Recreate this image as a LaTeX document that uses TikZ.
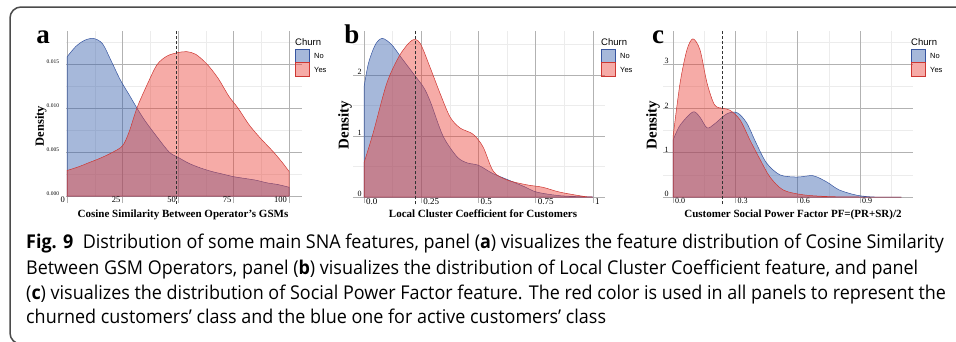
\documentclass[tikz,border=0pt]{standalone}
\usepackage{fontspec}
\setmainfont{Liberation Serif}
\newfontfamily\legfont{Liberation Sans}
\newfontfamily\capfont[FakeStretch=0.945]{Open Sans}
\definecolor{nocol}{RGB}{49,91,170}
\definecolor{yescol}{RGB}{235,60,50}
\definecolor{nodark}{RGB}{55,85,160}
\definecolor{yesdark}{RGB}{205,55,50}
\definecolor{framecol}{RGB}{75,75,75}
\tikzset{
 majorgrid/.style={draw=gray!60,line width=.7pt},
 minorgrid/.style={draw=gray!15,line width=.5pt},
 nofill/.style={fill=nocol,fill opacity=.43,draw=nodark,line width=.5pt},
 yesfill/.style={fill=yescol,fill opacity=.43,draw=yesdark,line width=.5pt},
 cutline/.style={draw=black!80,dash pattern=on 3pt off 2pt,line width=.8pt},
 ylab/.style={inner sep=0pt,anchor=south east},
 xlab/.style={inner sep=0pt},
 axtitle/.style={font=\bfseries\fontsize{11}{12}\selectfont,inner sep=0pt,anchor=base},
 denslab/.style={font=\bfseries,rotate=90,inner sep=0pt},
 panlab/.style={font=\bfseries\fontsize{27}{27}\selectfont,inner sep=0pt,anchor=base},
 legtitle/.style={font=\legfont\fontsize{9.5}{10}\selectfont,inner sep=0pt,anchor=west},
 legtext/.style={font=\legfont\fontsize{7.5}{8}\selectfont,inner sep=0pt,anchor=west},
 capline/.style={font=\capfont\fontsize{19}{22}\selectfont,inner sep=0pt,anchor=base west},
}

\begin{document}
\begin{tikzpicture}[x=1pt,y=-1pt]
    \useasboundingbox (0,0) rectangle (956,341);
    \begin{scope}
        \clip (0,0) rectangle (956,341);
        \draw[framecol, line width=1.5pt, rounded corners=11pt] (960,7) -- (10,7) -- (10,344) -- (40,344);
    \end{scope}

    % panel a
    \begin{scope}[shift={(67,196)},x=2.22pt,y=8.8pt]
        \foreach \v in {2.5,7.5,12.5,17.5} \draw[minorgrid] (-0.5,\v) -- (106,\v);
        \foreach \u in {12.5,37.5,62.5,87.5} \draw[minorgrid] (\u,0) -- (\u,18.75);
        \foreach \v in {0,5,10,15} \draw[majorgrid] (-0.5,\v) -- (106,\v);
        \foreach \u in {0,25,50,75,100} \draw[majorgrid] (\u,-0.8) -- (\u,18.75);
        \path[nofill] plot[smooth] coordinates {(0,15.8) (4,17.0) (8,17.7) (12,17.9) (16,17.3) (20,15.3) (24,13.2) (28,11.5) (31.5,10.0) (35,8.6) (40,6.9) (46,5.0) (50,4.4) (55,3.7) (60,3.2) (65,2.8) (70,2.5) (75,2.2) (80,2.0) (85,1.8) (90,1.5) (95,1.3) (100,1.0)} -- (100,0) -- (0,0) -- cycle;
        \path[yesfill] plot[smooth] coordinates {(0,2.9) (5,3.3) (10,3.8) (15,4.3) (20,4.9) (25,5.7) (28,7.3) (31.5,10.0) (36,12.6) (40.5,14.9) (45,15.9) (50,16.3) (54,16.4) (58,16.1) (63,15.0) (68,13.4) (73,11.3) (77,10.0) (82,8.1) (87,6.6) (93,5.0) (97,3.8) (100,2.8)} -- (100,0) -- (0,0) -- cycle;
        \draw[cutline] (49.1,-0.9) -- (49.1,18.9);
        \foreach \v/\t [count=\i] in {0/0.000,5/0.005,10/0.010,15/0.015}
            \node[ylab,font=\fontsize{5.5}{6}\selectfont] (ay\i) at (-3.5,\v) {\t};
        \foreach \u [count=\i] in {0,25,50,75,100}
            \node[xlab,anchor=north east,font=\fontsize{8.5}{9}\selectfont] (ax\i) at ([xshift=-2pt,yshift=-1pt]\u,0) {\u};
    \end{scope}
    \node[panlab] (pa) at (43,43) {a};
    \node[denslab,font=\bfseries\fontsize{12.5}{13}\selectfont] (da) at (41,126) {Density};
    \node[axtitle] (ta) at (183,217) {Cosine Similarity Between Operator’s GSMs};

    % panel b
    \begin{scope}[shift={(364,197)},x=229pt,y=61pt]
        \foreach \v in {0.5,1.5,2.5} \draw[minorgrid] (-0.048,\v) -- (1.052,\v);
        \foreach \u in {0.125,0.375,0.625,0.875} \draw[minorgrid] (\u,0) -- (\u,2.72);
        \foreach \v in {0,1,2} \draw[majorgrid] (-0.048,\v) -- (1.052,\v);
        \foreach \u in {0,0.25,0.5,0.75,1} \draw[majorgrid] (\u,-0.1) -- (\u,2.72);
        \path[nofill] plot[smooth] coordinates {(0,1.8) (0.02,2.2) (0.05,2.5) (0.08,2.6) (0.12,2.5) (0.16,2.3) (0.22,2.0) (0.26,1.8) (0.29,1.56) (0.345,1.0) (0.406,0.66) (0.45,0.56) (0.5,0.52) (0.56,0.39) (0.63,0.28) (0.7,0.17) (0.755,0.08) (0.86,0.02) (1,0)} -- (0,0) -- cycle;
        \path[yesfill] plot[smooth] coordinates {(0,0.56) (0.04,1.05) (0.1,1.87) (0.157,2.33) (0.21,2.57) (0.245,2.52) (0.288,2.13) (0.332,1.7) (0.376,1.31) (0.42,1.13) (0.476,1.03) (0.52,0.82) (0.565,0.42) (0.624,0.28) (0.71,0.2) (0.78,0.16) (0.855,0.08) (0.96,0.01) (1,0)} -- (0,0) -- cycle;
        \draw[cutline] (0.223,-0.12) -- (0.223,2.74);
        \foreach \v [count=\i] in {0,1,2}
            \node[ylab,font=\fontsize{8}{8}\selectfont] (by\i) at (-0.01,\v) {\v};
        \foreach \u/\t [count=\i] in {0/0.0,0.25/0.25,0.5/0.5,0.75/0.75,1/1}
            \node[xlab,anchor=north west,font=\fontsize{9}{9}\selectfont] (bx\i) at ([xshift=2pt,yshift=-1pt]\u,0) {\t};
    \end{scope}
    \node[panlab] (pb) at (352,43) {b};
    \node[denslab,font=\bfseries\fontsize{15}{15}\selectfont] (db) at (345,125) {Density};
    \node[axtitle] (tb) at (483,217) {Local Cluster Coefficient for Customers};

    % panel c
    \begin{scope}[shift={(673,197)},x=207.7pt,y=44.3pt]
        \foreach \v in {0.5,1.5,2.5,3.5} \draw[minorgrid] (-0.048,\v) -- (1.156,\v);
        \foreach \u in {0.15,0.45,0.75,1.05} \draw[minorgrid] (\u,0) -- (\u,3.75);
        \foreach \v in {0,1,2,3} \draw[majorgrid] (-0.048,\v) -- (1.156,\v);
        \foreach \u in {0,0.3,0.6,0.9} \draw[majorgrid] (\u,-0.14) -- (\u,3.75);
        \path[nofill] plot[smooth] coordinates {(0,1.28) (0.034,1.62) (0.096,1.92) (0.13,1.8) (0.164,1.56) (0.2,1.65) (0.26,1.88) (0.31,1.9) (0.355,1.67) (0.4,1.22) (0.45,0.77) (0.515,0.5) (0.597,0.45) (0.674,0.48) (0.74,0.34) (0.8,0.16) (0.885,0.04) (0.97,0) (1.1,0)} -- (0,0) -- cycle;
        \path[yesfill] plot[smooth] coordinates {(0,1.35) (0.034,2.57) (0.067,3.32) (0.096,3.57) (0.13,3.32) (0.164,2.57) (0.2,2.08) (0.24,2.0) (0.274,1.96) (0.323,1.74) (0.37,1.29) (0.42,0.84) (0.467,0.45) (0.53,0.16) (0.626,0.05) (0.75,0.01) (0.9,0) (1.1,0)} -- (0,0) -- cycle;
        \draw[cutline] (0.24,-0.16) -- (0.24,3.78);
        \foreach \v [count=\i] in {0,1,2,3}
            \node[ylab,font=\fontsize{8}{8}\selectfont] (cy\i) at (-0.02,\v) {\v};
        \foreach \u/\t [count=\i] in {0/0.0,0.3/0.3,0.6/0.6,0.9/0.9}
            \node[xlab,anchor=north west,font=\fontsize{8}{8}\selectfont] (cx\i) at ([xshift=2pt,yshift=-1pt]\u,0) {\t};
    \end{scope}
    \node[panlab] (pc) at (658,43) {c};
    \node[denslab,font=\bfseries\fontsize{15}{15}\selectfont] (dc) at (653,125) {Density};
    \node[axtitle] (tc) at (793,217) {Customer Social Power Factor PF=(PR+SR)/2};

    % legends
    \foreach \p/\lx in {a/295,b/601,c/911} {
        \node[legtitle] (leg\p) at (\lx,42) {Churn};
        \draw[nofill] (\lx,49) rectangle (\lx+14,62.5);
        \draw[yesfill] (\lx,62.5) rectangle (\lx+14,76);
        \node[legtext] (no\p) at (\lx+19,56) {No};
        \node[legtext] (yes\p) at (\lx+19,70) {Yes};
    }

    % caption
    \node[capline] (cap1) at (26,248) {\textbf{Fig. 9}\enspace Distribution of some main SNA features, panel (\textbf{a}) visualizes the feature distribution of Cosine Similarity};
    \node[capline] (cap2) at (26,274) {Between GSM Operators, panel (\textbf{b}) visualizes the distribution of Local Cluster Coefficient feature, and panel};
    \node[capline] (cap3) at (26,299) {(\textbf{c}) visualizes the distribution of Social Power Factor feature. The red color is used in all panels to represent the};
    \node[capline] (cap4) at (26,323) {churned customers’ class and the blue one for active customers’ class};
\end{tikzpicture}
\end{document}
